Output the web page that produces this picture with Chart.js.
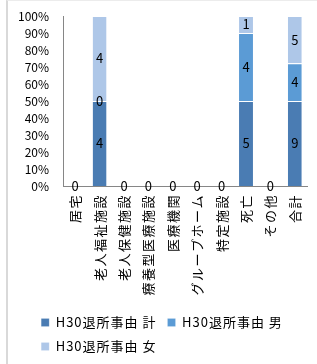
<!DOCTYPE html>
<html><head><meta charset="utf-8">
<script src="https://cdn.jsdelivr.net/npm/chart.js@4/dist/chart.umd.min.js"></script>
<style>
html,body{margin:0;padding:0;background:#fff;}
#wrap{position:relative;width:317px;height:364px;overflow:hidden;}
#frame{position:absolute;left:6px;top:0;width:400px;height:400px;border-left:2px solid #d9d9d9;border-top:1px solid #ececec;}
canvas{position:absolute;left:0;top:0;}
</style></head><body>
<div id="wrap"><div id="frame"></div><canvas id="c" width="317" height="364"></canvas></div>
<script>
const categories = ['居宅','老人福祉施設','老人保健施設','療養型医療施設','医療機関','グループホーム','特定施設','死亡','その他','合計'];
const seriesNames = ['H30退所事由 計','H30退所事由 男','H30退所事由 女'];
const totalValues  = [0,4,0,0,0,0,0,5,0,9];
const maleValues   = [0,0,0,0,0,0,0,4,0,4];
const femaleValues = [0,4,0,0,0,0,0,1,0,5];
const yTickValues  = [0,10,20,30,40,50,60,70,80,90,100];
const seriesColors = ['#4a7cb3','#5b9bd5','#aec7e8'];

const FONT = '"Noto Sans CJK JP", "Noto Sans", sans-serif';
const allSeries = [totalValues, maleValues, femaleValues];
const sums = categories.map((_, j) => allSeries.reduce((a, s) => a + s[j], 0));
const pct = s => s.map((v, j) => sums[j] ? v / sums[j] * 100 : 0);

const datasets = allSeries.map((s, i) => ({
  label: seriesNames[i],
  data: pct(s),
  counts: s,
  backgroundColor: seriesColors[i],
  borderColor: 'rgba(255,255,255,0.7)',
  borderWidth: {top: 1, left: 0, right: 0, bottom: 0},
  borderSkipped: false,
  categoryPercentage: 1,
  barPercentage: 0.57
}));

function withSpacing(obj, fn, spacing) {
  const o = obj[fn];
  obj[fn] = function (...a) {
    const ctx = this.ctx;
    ctx.save();
    if ('letterSpacing' in ctx) ctx.letterSpacing = spacing;
    const r = o.apply(this, a);
    ctx.restore();
    return r;
  };
}

const layoutPlugin = {
  id: 'layoutTweaks',
  beforeUpdate(chart) {
    const lg = chart.legend;
    if (lg && !lg.__patched) {
      withSpacing(lg, 'fit', '1px');
      withSpacing(lg, 'draw', '1px');
      lg.__patched = true;
    }
  },
  afterLayout(chart) {
    const lg = chart.legend;
    if (lg && lg.lineWidths) {
      const pad = lg.options.labels.padding;
      const lw = Math.max(...lg.lineWidths) - pad;
      lg.left += (lg.width - lw) / 2 - pad;
    }
  },
  beforeDraw(chart) {
    const sx = chart.scales.x;
    if (!sx.__patched) {
      const orig = sx.drawLabels;
      sx.drawLabels = function (area) {
        const ctx = this.ctx;
        ctx.save();
        const lg = chart.legend;
        const bottom = lg ? lg.top - 5 : chart.height;
        ctx.beginPath();
        ctx.rect(0, this.top, chart.width, bottom - this.top);
        ctx.clip();
        if ('letterSpacing' in ctx) ctx.letterSpacing = '1.5px';
        orig.call(this, area);
        ctx.restore();
      };
      sx.__patched = true;
    }
  },
  afterDatasetsDraw(chart) {
    const ctx = chart.ctx;
    ctx.save();
    ctx.font = '13px ' + FONT;
    ctx.fillStyle = '#000';
    ctx.textAlign = 'center';
    ctx.textBaseline = 'middle';
    const done = new Set();
    chart.data.datasets.forEach((ds, i) => {
      const meta = chart.getDatasetMeta(i);
      meta.data.forEach((el, j) => {
        const y = (el.y + el.base) / 2;
        const key = Math.round(el.x) + ',' + Math.round(y) + ',' + ds.counts[j];
        if (done.has(key)) return;
        done.add(key);
        ctx.fillText(String(ds.counts[j]), el.x, y);
      });
    });
    ctx.restore();
  }
};

new Chart(document.getElementById('c'), {
  type: 'bar',
  data: {labels: categories, datasets},
  options: {
    responsive: false,
    animation: false,
    devicePixelRatio: 1,
    layout: {padding: {left: 17, right: 10, top: 16, bottom: 1}},
    scales: {
      x: {
        stacked: true,
        grid: {display: false, drawTicks: false},
        border: {display: true, color: '#868686'},
        ticks: {autoSkip: false, minRotation: 90, maxRotation: 90, padding: 8, color: '#000', font: {size: 13, family: FONT}},
        afterFit(s) { s.height = 119; s.paddingLeft = 0; s.paddingRight = 0; }
      },
      y: {
        stacked: true,
        min: 0, max: 100,
        afterBuildTicks(s) { s.ticks = yTickValues.map(v => ({value: v})); },
        grid: {display: false, drawTicks: false},
        border: {display: true, color: '#868686'},
        ticks: {autoSkip: false, padding: 14, color: '#000', font: {size: 12, family: FONT}, callback: v => v + '%'},
        afterFit(s) { s.width = 46; s.paddingTop = 0; }
      }
    },
    plugins: {
      legend: {
        position: 'bottom',
        align: 'start',
        labels: {boxWidth: 8, boxHeight: 8, padding: 11, color: '#000', font: {size: 13, family: FONT}}
      },
      tooltip: {enabled: false}
    }
  },
  plugins: [layoutPlugin]
});
</script>
</body></html>
